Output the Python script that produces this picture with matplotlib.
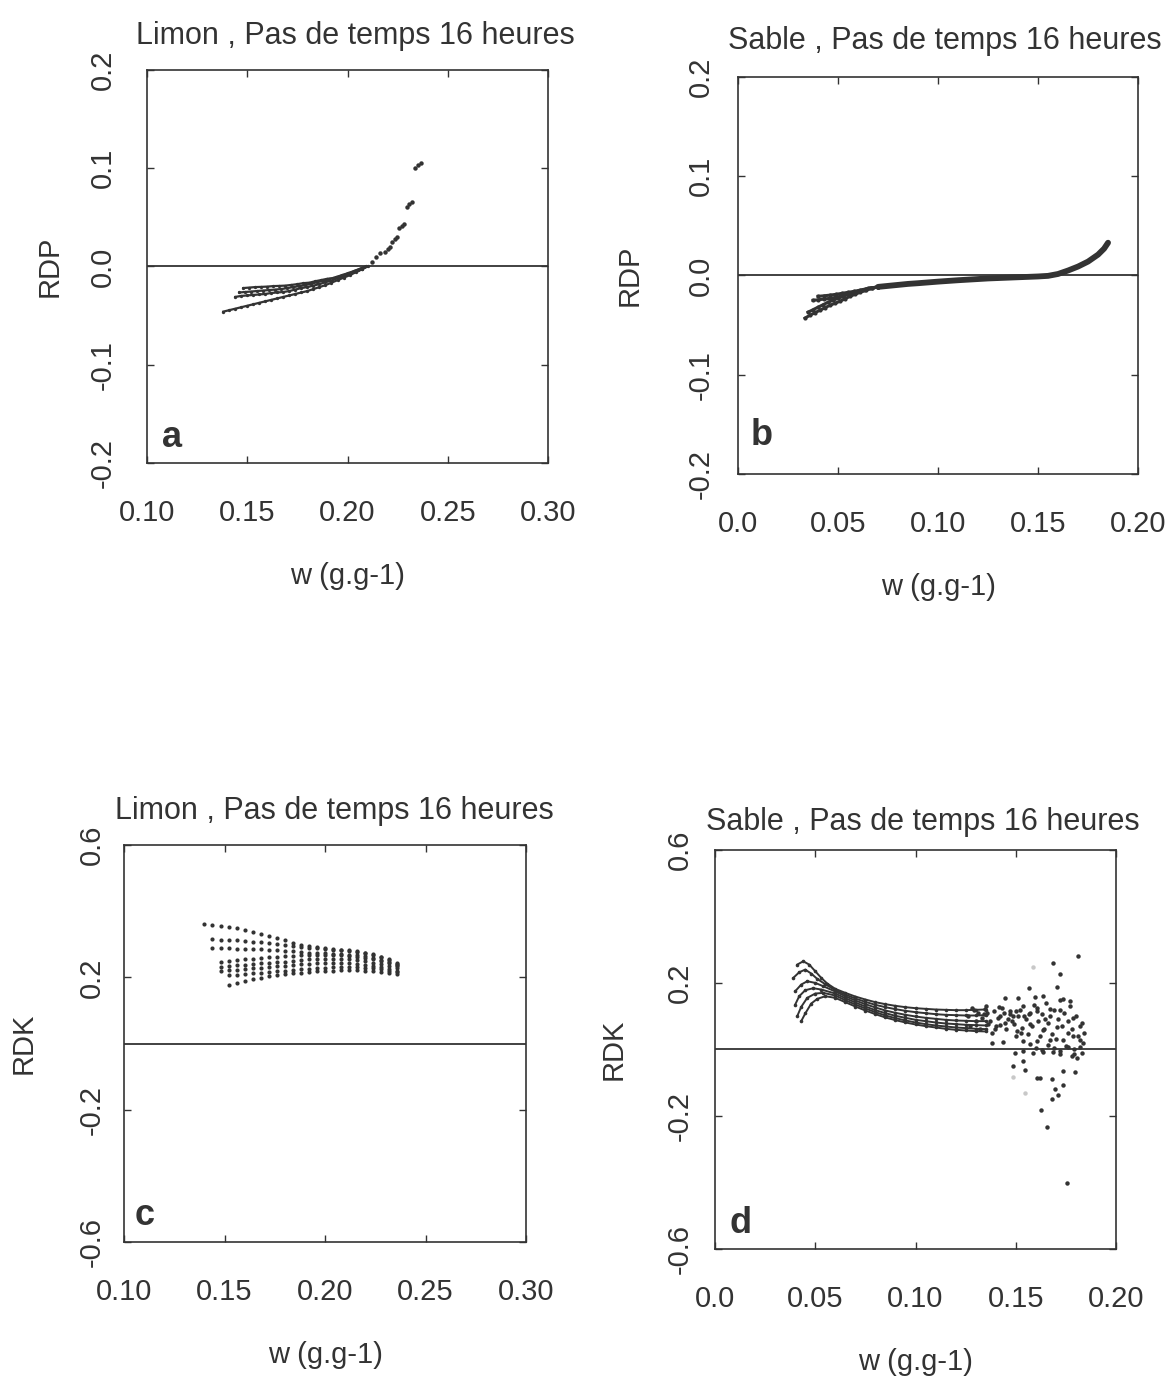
import matplotlib.pyplot as plt

plt.rcParams['font.family'] = ['Liberation Sans', 'DejaVu Sans']

INK = '#333333'

# ---------------- panel a : Limon, RDP ----------------
a1_w = [0.138, 0.141, 0.144, 0.147, 0.150, 0.153, 0.156, 0.159, 0.162, 0.165, 0.168, 0.171, 0.174,
        0.177, 0.180, 0.183, 0.186, 0.189, 0.192, 0.195, 0.198, 0.201, 0.204, 0.207, 0.210]
a1_v = [-0.046, -0.0445, -0.043, -0.0415, -0.040, -0.0385, -0.037, -0.0355, -0.034, -0.0325, -0.031,
        -0.0295, -0.028, -0.0265, -0.025, -0.023, -0.021, -0.019, -0.0165, -0.014, -0.0115, -0.009,
        -0.006, -0.003, 0.0]
a2_w = [0.148, 0.151, 0.154, 0.157, 0.160, 0.163, 0.166, 0.169, 0.172, 0.175, 0.178, 0.181, 0.184,
        0.187, 0.190, 0.193, 0.196, 0.199, 0.202, 0.205, 0.208]
a2_v = [-0.022, -0.0215, -0.021, -0.0208, -0.0205, -0.020, -0.0198, -0.0195, -0.0188, -0.018, -0.017,
        -0.0165, -0.015, -0.0138, -0.0125, -0.012, -0.010, -0.008, -0.006, -0.0035, -0.001]
a3_w = [0.146, 0.149, 0.152, 0.155, 0.158, 0.161, 0.164, 0.167, 0.170, 0.173, 0.176, 0.179, 0.182,
        0.185, 0.188, 0.191, 0.194, 0.197, 0.200, 0.203, 0.206, 0.209]
a3_v = [-0.0265, -0.026, -0.0255, -0.025, -0.0245, -0.024, -0.0235, -0.023, -0.022, -0.021, -0.020,
        -0.019, -0.0175, -0.016, -0.0145, -0.0128, -0.011, -0.009, -0.007, -0.0048, -0.0025, 0.0]
a4_w = [0.144, 0.147, 0.150, 0.153, 0.156, 0.159, 0.162, 0.165, 0.168, 0.171, 0.174, 0.177, 0.180,
        0.183, 0.186, 0.189, 0.192, 0.195, 0.198, 0.201, 0.204, 0.207]
a4_v = [-0.031, -0.030, -0.0295, -0.029, -0.0285, -0.028, -0.027, -0.0265, -0.026, -0.025, -0.0235,
        -0.022, -0.021, -0.0195, -0.018, -0.016, -0.0145, -0.012, -0.010, -0.0075, -0.005, -0.0025]
a_tail_w = [0.2121, 0.2142, 0.2163, 0.2188, 0.2200, 0.2213, 0.2221, 0.2235, 0.2249, 0.2257, 0.2270,
            0.2282, 0.2296, 0.2309, 0.2321, 0.2337, 0.2352, 0.2366]
a_tail_v = [0.0049, 0.0092, 0.0135, 0.0151, 0.0177, 0.0202, 0.0253, 0.0276, 0.0298, 0.0389, 0.0411,
            0.0433, 0.0609, 0.0635, 0.0660, 0.1000, 0.1029, 0.1057]

# ---------------- panel b : Sable, RDP ----------------
b1_w = [0.0335, 0.036, 0.0385, 0.041, 0.0435, 0.046, 0.0485, 0.051, 0.0535, 0.056, 0.0585, 0.061,
        0.0635, 0.066, 0.070]
b1_v = [-0.043, -0.040, -0.0375, -0.035, -0.0325, -0.030, -0.028, -0.026, -0.0235, -0.021, -0.019,
        -0.017, -0.015, -0.013, -0.0115]
b2_w = [0.035, 0.0375, 0.040, 0.0425, 0.045, 0.0475, 0.050, 0.0525, 0.055, 0.0575, 0.060, 0.0625,
        0.065, 0.070]
b2_v = [-0.037, -0.0345, -0.032, -0.0295, -0.027, -0.025, -0.023, -0.021, -0.019, -0.0175, -0.016,
        -0.0145, -0.013, -0.0115]
b3_w = [0.0375, 0.040, 0.043, 0.046, 0.049, 0.052, 0.055, 0.058, 0.061, 0.064, 0.067, 0.070]
b3_v = [-0.025, -0.0245, -0.0238, -0.023, -0.022, -0.0205, -0.019, -0.0175, -0.016, -0.0145, -0.013,
        -0.0115]
b4_w = [0.040, 0.043, 0.046, 0.049, 0.052, 0.055, 0.058, 0.061, 0.064, 0.067, 0.070]
b4_v = [-0.021, -0.0205, -0.0198, -0.019, -0.018, -0.017, -0.016, -0.0148, -0.0135, -0.0125, -0.0115]
b_band_w = [0.070, 0.075, 0.080, 0.085, 0.090, 0.095, 0.100, 0.105, 0.110, 0.115, 0.120, 0.125, 0.130,
            0.135, 0.140, 0.145, 0.150, 0.155, 0.160, 0.165, 0.170, 0.175, 0.180, 0.183, 0.185]
b_band_v = [-0.0115, -0.0105, -0.0095, -0.0085, -0.0078, -0.007, -0.0062, -0.0055, -0.0048, -0.0042,
            -0.0036, -0.003, -0.0026, -0.0022, -0.0018, -0.0014, -0.001, -0.0004, 0.0015, 0.005,
            0.009, 0.014, 0.021, 0.027, 0.033]

# ---------------- panel c : Limon, RDK ----------------
c_w = [0.140, 0.144, 0.148, 0.152, 0.156, 0.160, 0.164, 0.168, 0.172, 0.176, 0.180, 0.184, 0.188,
       0.192, 0.196, 0.200, 0.204, 0.208, 0.212, 0.216, 0.220, 0.224, 0.228, 0.232, 0.236]
c_r1 = [0.361, 0.359, 0.356, 0.353, 0.349, 0.344, 0.338, 0.332, 0.325, 0.319, 0.312, 0.305, 0.299,
        0.294, 0.291, 0.288, 0.286, 0.284, 0.282, 0.279, 0.275, 0.270, 0.263, 0.255, 0.242]
c_r2 = [0.315, 0.314, 0.313, 0.312, 0.310, 0.308, 0.306, 0.303, 0.300, 0.297, 0.294, 0.292, 0.290,
        0.288, 0.286, 0.284, 0.282, 0.280, 0.277, 0.273, 0.268, 0.261, 0.253, 0.240]
c_r3 = [0.288, 0.288, 0.288, 0.287, 0.287, 0.286, 0.285, 0.284, 0.283, 0.281, 0.279, 0.277, 0.275,
        0.274, 0.273, 0.272, 0.271, 0.269, 0.267, 0.264, 0.260, 0.254, 0.246, 0.236]
c_r4 = [0.248, 0.250, 0.253, 0.255, 0.257, 0.259, 0.261, 0.263, 0.265, 0.266, 0.267, 0.268, 0.268,
        0.268, 0.268, 0.267, 0.265, 0.263, 0.260, 0.256, 0.250, 0.244, 0.234]
c_r5 = [0.232, 0.234, 0.236, 0.238, 0.240, 0.242, 0.244, 0.246, 0.248, 0.250, 0.253, 0.255, 0.256,
        0.257, 0.257, 0.256, 0.255, 0.253, 0.249, 0.245, 0.240, 0.234, 0.227]
c_r6 = [0.219, 0.221, 0.223, 0.225, 0.227, 0.229, 0.231, 0.233, 0.235, 0.237, 0.239, 0.241, 0.242,
        0.243, 0.243, 0.243, 0.242, 0.240, 0.237, 0.234, 0.230, 0.225, 0.220]
c_r7 = [0.206, 0.208, 0.210, 0.212, 0.214, 0.216, 0.218, 0.220, 0.222, 0.224, 0.226, 0.228, 0.229,
        0.230, 0.231, 0.231, 0.230, 0.229, 0.227, 0.224, 0.220, 0.216]
c_r8 = [0.176, 0.184, 0.190, 0.195, 0.199, 0.203, 0.206, 0.209, 0.212, 0.214, 0.216, 0.218, 0.219,
        0.220, 0.221, 0.221, 0.221, 0.220, 0.219, 0.217, 0.214, 0.210]

# ---------------- panel d : Sable, RDK ----------------
d_band_w = [0.060, 0.065, 0.070, 0.075, 0.080, 0.085, 0.090, 0.095, 0.100, 0.105, 0.110, 0.115,
            0.120, 0.125, 0.130, 0.135]
d1_w = [0.041, 0.044, 0.047, 0.050, 0.053, 0.056]
d1_v = [0.255, 0.265, 0.255, 0.235, 0.215, 0.198,
        0.182, 0.170, 0.159, 0.150, 0.142, 0.136, 0.131, 0.127, 0.124, 0.122, 0.120, 0.119, 0.118,
        0.118, 0.119, 0.120]
d2_w = [0.039, 0.042, 0.045, 0.048, 0.051, 0.055]
d2_v = [0.215, 0.232, 0.240, 0.228, 0.212, 0.196,
        0.178, 0.165, 0.153, 0.143, 0.134, 0.127, 0.121, 0.116, 0.112, 0.109, 0.106, 0.104, 0.103,
        0.102, 0.102, 0.103]
d3_w = [0.040, 0.043, 0.046, 0.050, 0.054]
d3_v = [0.175, 0.195, 0.205, 0.200, 0.190,
        0.174, 0.160, 0.147, 0.136, 0.126, 0.117, 0.110, 0.104, 0.099, 0.095, 0.092, 0.089, 0.087,
        0.086, 0.085, 0.085]
d4_w = [0.040, 0.042, 0.045, 0.049, 0.053]
d4_v = [0.135, 0.160, 0.178, 0.184, 0.180,
        0.168, 0.154, 0.141, 0.129, 0.118, 0.109, 0.101, 0.095, 0.089, 0.085, 0.081, 0.078, 0.076,
        0.074, 0.073, 0.072]
d5_w = [0.041, 0.043, 0.046, 0.050, 0.054]
d5_v = [0.100, 0.128, 0.155, 0.168, 0.170,
        0.162, 0.148, 0.135, 0.123, 0.112, 0.102, 0.094, 0.087, 0.081, 0.076, 0.072, 0.069, 0.066,
        0.064, 0.062, 0.061]
d6_w = [0.043, 0.045, 0.048, 0.051, 0.055]
d6_v = [0.085, 0.108, 0.138, 0.152, 0.160,
        0.155, 0.142, 0.129, 0.117, 0.106, 0.096, 0.088, 0.081, 0.075, 0.070, 0.066, 0.062, 0.059,
        0.057, 0.055, 0.054]
d_pts_w = [0.1812, 0.1684, 0.172, 0.1568, 0.1704, 0.1447, 0.1513, 0.1596, 0.1638, 0.1738, 0.1771,
           0.1414, 0.1471, 0.1538, 0.1604, 0.1671, 0.172, 0.1787, 0.1829, 0.1355, 0.1422, 0.1505,
           0.1571, 0.1638, 0.1704, 0.1762, 0.1821, 0.1837, 0.138, 0.1438, 0.1538, 0.1604, 0.1671,
           0.1737, 0.1787, 0.1496, 0.1538, 0.1588, 0.1638, 0.1688, 0.172, 0.1779, 0.1804, 0.1488,
           0.1538, 0.1546, 0.1604, 0.162, 0.1679, 0.1737, 0.1795, 0.1696, 0.1737, 0.1679, 0.1713,
           0.1625, 0.1655, 0.1754,
           0.128, 0.131, 0.133, 0.135, 0.137, 0.139, 0.140, 0.142, 0.143, 0.145, 0.146, 0.147, 0.149,
           0.150, 0.151, 0.152, 0.153, 0.155, 0.156, 0.157, 0.158, 0.159, 0.161, 0.162, 0.163, 0.164,
           0.165, 0.166, 0.167, 0.168, 0.169, 0.170, 0.171, 0.172, 0.173, 0.174, 0.175, 0.176, 0.177,
           0.178, 0.179, 0.180, 0.181, 0.182, 0.183, 0.184,
           0.126, 0.127, 0.129, 0.130, 0.132, 0.134, 0.136, 0.138, 0.141, 0.144, 0.148, 0.150, 0.154,
           0.157, 0.160, 0.163, 0.166, 0.169, 0.172, 0.176, 0.179, 0.182, 0.1345, 0.1395, 0.1445,
           0.1485, 0.1525, 0.1565, 0.1605, 0.1645]
d_pts_v = [0.282, 0.260, 0.226, 0.186, 0.188, 0.155, 0.155, 0.158, 0.161, 0.152, 0.147,
           0.129, 0.105, 0.131, 0.125, 0.123, 0.118, 0.094, 0.079, 0.110, 0.074, 0.055,
           0.077, 0.057, 0.066, 0.048, 0.029, 0.019, 0.019, 0.023, 0.025, 0.026, 0.027,
           0.029, 0.039, -0.010, -0.005, -0.011, -0.007, -0.007, -0.013, -0.021, -0.026, -0.050,
           -0.035, -0.063, -0.086, -0.086, -0.090, -0.066, -0.067, -0.120, -0.108, -0.148, -0.138,
           -0.181, -0.234, -0.403,
           0.125, 0.110, 0.095, 0.130, 0.085, 0.115, 0.070, 0.100, 0.125, 0.060, 0.090, 0.115, 0.075,
           0.040, 0.100, 0.120, 0.065, 0.090, 0.045, 0.110, 0.070, 0.135, 0.085, 0.040, 0.105, 0.060,
           0.140, 0.080, 0.100, 0.045, 0.120, 0.030, 0.090, 0.150, 0.070, 0.110, 0.010, 0.085, 0.130,
           0.060, 0.000, 0.100, 0.040, 0.070, -0.010, 0.050,
           0.100, 0.070, 0.118, 0.085, 0.060, 0.105, 0.075, 0.050, 0.095, 0.110, 0.085, 0.115, 0.100,
           0.015, 0.005, -0.002, 0.012, 0.003, -0.004, 0.006, -0.015, 0.008, 0.122, 0.060, 0.080,
           0.100, 0.050, 0.105, 0.115, 0.092]
d_faint_w = [0.1588, 0.1488, 0.1546]
d_faint_v = [0.247, -0.083, -0.130]

# ticks and labels
x_lim_limon = (0.10, 0.30)
x_ticks_limon = [0.10, 0.15, 0.20, 0.25, 0.30]
x_labels_limon = ['0.10', '0.15', '0.20', '0.25', '0.30']
x_lim_sable = (0.0, 0.20)
x_ticks_sable = [0.0, 0.05, 0.10, 0.15, 0.20]
x_labels_sable = ['0.0', '0.05', '0.10', '0.15', '0.20']
y_ticks_rdp = [-0.2, -0.1, 0.0, 0.1, 0.2]
y_labels_rdp = ['-0.2', '-0.1', '0.0', '0.1', '0.2']
y_ticks_rdk = [-0.6, -0.2, 0.2, 0.6]
y_labels_rdk = ['-0.6', '-0.2', '0.2', '0.6']

FS = 21

fig = plt.figure(figsize=(11.67, 13.77), dpi=100)
ax_a = fig.add_axes([0.1260, 0.6638, 0.3436, 0.2854])
ax_b = fig.add_axes([0.6324, 0.6558, 0.3428, 0.2883])
ax_c = fig.add_axes([0.1063, 0.0980, 0.3445, 0.2883])
ax_d = fig.add_axes([0.6127, 0.0930, 0.3436, 0.2898])


def style(ax, xlim, xt, xl, ylim, yt, yl, ylab, title, tx, tpad, letter, lx, ly, ypad, ylpad):
    ax.set_xlim(*xlim)
    ax.set_ylim(*ylim)
    ax.set_xticks(xt)
    ax.set_xticklabels(xl)
    ax.set_yticks(yt)
    ax.set_yticklabels(yl, rotation=90, va='center')
    ax.tick_params(direction='in', length=5, width=1, color=INK, top=True, right=True,
                   labelsize=FS, labelcolor=INK)
    ax.tick_params(axis='x', pad=26)
    ax.tick_params(axis='y', pad=ypad)
    for s in ax.spines.values():
        s.set_color(INK)
        s.set_linewidth(1.2)
    ax.axhline(0, color=INK, lw=1.3, zorder=1)
    ax.set_xlabel('w (g.g-1)', fontsize=FS, color=INK, labelpad=25)
    ax.set_ylabel(ylab, fontsize=FS, color=INK, labelpad=ylpad)
    ax.set_title(title, fontsize=FS + 1, color=INK, x=tx, pad=tpad)
    ax.text(lx, ly, letter, transform=ax.transAxes, fontsize=26, fontweight='bold',
            color=INK, ha='left', va='baseline')


dot = dict(color=INK, marker='o', ms=2.4, mew=0, lw=1.6)

# panel a
for w, v in [(a1_w, a1_v), (a2_w, a2_v), (a3_w, a3_v), (a4_w, a4_v)]:
    ax_a.plot(w, v, **dot)
ax_a.plot(a_tail_w, a_tail_v, 'o', color=INK, ms=3.2, mew=0)
style(ax_a, x_lim_limon, x_ticks_limon, x_labels_limon, (-0.2, 0.2), y_ticks_rdp, y_labels_rdp,
      'RDP', 'Limon , Pas de temps 16 heures', 0.52, 19, 'a', 0.037, 0.041, 22, 18)

# panel b
for w, v in [(b1_w, b1_v), (b2_w, b2_v), (b3_w, b3_v), (b4_w, b4_v)]:
    ax_b.plot(w, v, color=INK, marker='o', ms=3, mew=0, lw=2.2)
ax_b.plot(b_band_w, b_band_v, color=INK, lw=4.2, solid_capstyle='round')
style(ax_b, x_lim_sable, x_ticks_sable, x_labels_sable, (-0.2, 0.2), y_ticks_rdp, y_labels_rdp,
      'RDP', 'Sable , Pas de temps 16 heures', 0.516, 20, 'b', 0.032, 0.073, 17, 31)

# panel c
for start, row in [(0, c_r1), (1, c_r2), (1, c_r3), (2, c_r4), (2, c_r5), (2, c_r6), (3, c_r7),
                   (3, c_r8)]:
    ax_c.plot(c_w[start:], row, 'o', color=INK, ms=3.0, mew=0)
style(ax_c, x_lim_limon, x_ticks_limon, x_labels_limon, (-0.6, 0.6), y_ticks_rdk, y_labels_rdk,
      'RDK', 'Limon , Pas de temps 16 heures', 0.522, 19, 'c', 0.027, 0.043, 13, 29)

# panel d
for w, v in [(d1_w, d1_v), (d2_w, d2_v), (d3_w, d3_v), (d4_w, d4_v), (d5_w, d5_v), (d6_w, d6_v)]:
    ax_d.plot(w + d_band_w, v, color=INK, marker='o', ms=2.6, mew=0, lw=1.4)
ax_d.plot(d_pts_w, d_pts_v, 'o', color=INK, ms=3.2, mew=0)
ax_d.plot(d_faint_w, d_faint_v, 'o', color='#c8c8c8', ms=3.2, mew=0)
style(ax_d, x_lim_sable, x_ticks_sable, x_labels_sable, (-0.6, 0.6), y_ticks_rdk, y_labels_rdk,
      'RDK', 'Sable , Pas de temps 16 heures', 0.519, 14, 'd', 0.037, 0.040, 15, 28)

fig.savefig('out.png', dpi=100, facecolor='white')
